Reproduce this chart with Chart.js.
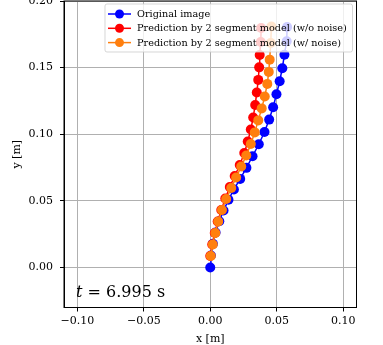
<!DOCTYPE html>
<html>
<head>
<meta charset="utf-8">
<script src="https://cdn.jsdelivr.net/npm/chart.js@4/dist/chart.umd.min.js"></script>
<style>
  html, body { margin: 0; padding: 0; background: #fff; }
  #wrap { width: 383px; height: 345px; }
</style>
</head>
<body>
<div id="wrap"><canvas id="armChart"></canvas></div>
<script>
// joint positions, in metres
const origX = [0, 0.0005, 0.002, 0.004, 0.0068, 0.0100, 0.0137, 0.0178, 0.0225, 0.0272, 0.0318, 0.0365, 0.0408, 0.0443, 0.0473, 0.0498, 0.0522, 0.0542, 0.0558, 0.0575, 0.0578]
const origY = [0, 0.009, 0.0178, 0.0263, 0.0347, 0.0428, 0.0508, 0.0586, 0.0665, 0.0748, 0.0835, 0.0925, 0.1017, 0.111, 0.1203, 0.1300, 0.1398, 0.1496, 0.1597, 0.1698, 0.1805]

// prediction without noise (base joint is hidden under the original one)
const cleanX = [0, 0.0015, 0.0034, 0.0056, 0.0083, 0.0113, 0.0147, 0.0184, 0.0222, 0.0256, 0.0282, 0.0305, 0.0323, 0.0338, 0.0350, 0.0361, 0.0368, 0.0372, 0.0380, 0.0383]
const cleanY = [0.0086, 0.0173, 0.0259, 0.0345, 0.0432, 0.0518, 0.0604, 0.0687, 0.0769, 0.0859, 0.0946, 0.1036, 0.1126, 0.1220, 0.1314, 0.1408, 0.1502, 0.1595, 0.1693, 0.1798]

// prediction with noise
const noisyX = [0.0004, 0.0019, 0.0038, 0.0060, 0.0088, 0.0120, 0.0158, 0.0195, 0.0233, 0.0271, 0.0305, 0.0335, 0.0361, 0.0387, 0.0410, 0.0429, 0.0440, 0.0447, 0.0455, 0.0460]
const noisyY = [0.0086, 0.0173, 0.0259, 0.0345, 0.0432, 0.0514, 0.0597, 0.0676, 0.0758, 0.0841, 0.0927, 0.1014, 0.1104, 0.1194, 0.1284, 0.1378, 0.1468, 0.1560, 0.1685, 0.1808]

const seriesNames = ['Original image', 'Prediction by 2 segment model (w/o noise)', 'Prediction by 2 segment model (w/ noise)']
const seriesColors = ['#0000ff', '#ff0000', '#ff7f0e']

const xTicks = [-0.10, -0.05, 0.00, 0.05, 0.10]
const yTicks = [0.00, 0.05, 0.10, 0.15, 0.20]
const timeValue = '6.995'

const serif = "'DejaVu Serif', serif"

function toPoints(xs, ys) {
    return xs.map((x, i) => ({x: x, y: ys[i]}))
}

// matplotlib style labels with a real minus sign
function fmtTick(v) {
    return (v < 0 ? '\u2212' : '') + Math.abs(v).toFixed(2)
}

// keep the plot box fixed: no extra room for the outermost tick labels
function noLabelPadding(scale) {
    scale.paddingTop = 0
    scale.paddingBottom = 0
    scale.paddingLeft = 0
    scale.paddingRight = 0
}

const allSeries = [toPoints(origX, origY), toPoints(cleanX, cleanY), toPoints(noisyX, noisyY)]

const datasets = allSeries.map((pts, i) => ({
    label: seriesNames[i],
    data: pts,
    showLine: true,
    borderColor: seriesColors[i],
    backgroundColor: seriesColors[i],
    borderWidth: 1.5,
    pointRadius: 5,
    pointBorderWidth: 0,
    pointHoverRadius: 5,
    // last series on top, like matplotlib
    order: allSeries.length - i
}))

// draws top/right spines, the legend inside the axes and the time stamp
const axesExtras = {
    id: 'axesExtras',
    afterDatasetsDraw(chart) {
        const {ctx, chartArea: a} = chart
        ctx.save()

        // time stamp
        ctx.fillStyle = '#000'
        ctx.textBaseline = 'alphabetic'
        ctx.textAlign = 'left'
        ctx.font = 'italic 16px ' + serif
        const tx = a.left + 12
        const ty = a.bottom - 11
        ctx.fillText('t', tx, ty)
        const tw = ctx.measureText('t').width
        ctx.font = '16px ' + serif
        ctx.fillText(' = ' + timeValue + ' s', tx + tw, ty)

        // legend
        const boxL = 105, boxT = 4, boxR = a.right - 4, boxB = 52
        ctx.beginPath()
        ctx.roundRect(boxL, boxT, boxR - boxL, boxB - boxT, 2)
        ctx.fillStyle = 'rgba(255,255,255,0.8)'
        ctx.fill()
        ctx.strokeStyle = 'rgba(204,204,204,0.8)'
        ctx.lineWidth = 1
        ctx.stroke()

        // size the text so the longest label spans the same width as in the picture
        ctx.font = '10px ' + serif
        const longest = Math.max(...chart.data.datasets.map(ds => ctx.measureText(ds.label).width))
        const legendSize = 10 * 210 / longest
        ctx.font = legendSize.toFixed(2) + 'px ' + serif
        ctx.textBaseline = 'middle'
        chart.data.datasets.forEach((ds, i) => {
            const ry = 14 + i * 14.3
            ctx.strokeStyle = ds.borderColor
            ctx.lineWidth = 1.5
            ctx.beginPath()
            ctx.moveTo(108, ry)
            ctx.lineTo(131, ry)
            ctx.stroke()
            ctx.fillStyle = ds.backgroundColor
            ctx.beginPath()
            ctx.arc(119.5, ry, 4.5, 0, Math.PI * 2)
            ctx.fill()
            ctx.fillStyle = '#000'
            ctx.fillText(ds.label, 137, ry + 0.5)
        })

        // spines
        ctx.strokeStyle = '#000'
        ctx.lineWidth = 1
        ctx.strokeRect(a.left, a.top, a.right - a.left, a.bottom - a.top)
        ctx.restore()
    }
}

const armChart = new Chart(document.getElementById('armChart'), {
    type: 'scatter',
    data: {datasets: datasets},
    options: {
        responsive: true,
        maintainAspectRatio: false,
        animation: false,
        devicePixelRatio: 1,
        layout: {autoPadding: false, padding: {left: 0, right: 26.5, top: 1, bottom: 0}},
        plugins: {
            legend: {display: false},
            tooltip: {enabled: false}
        },
        scales: {
            x: {
                type: 'linear',
                min: -0.11,
                max: 0.11,
                afterBuildTicks: scale => { scale.ticks = xTicks.map(v => ({value: v})) },
                afterFit: scale => {
                    scale.height = 37.5
                    noLabelPadding(scale)
                },
                ticks: {
                    callback: v => fmtTick(v),
                    color: '#000',
                    padding: 3,
                    maxRotation: 0,
                    font: {family: serif, size: 11}
                },
                grid: {color: '#b0b0b0', lineWidth: 1, tickColor: '#000', tickLength: 4},
                border: {color: '#000', width: 1},
                title: {
                    display: true,
                    text: 'x [m]',
                    color: '#000',
                    padding: {top: 0, bottom: 0},
                    font: {family: serif, size: 11, lineHeight: 1}
                }
            },
            y: {
                type: 'linear',
                min: -0.03,
                max: 0.20,
                afterBuildTicks: scale => { scale.ticks = yTicks.map(v => ({value: v})) },
                afterFit: scale => {
                    scale.width = 64
                    noLabelPadding(scale)
                },
                ticks: {
                    callback: v => fmtTick(v),
                    color: '#000',
                    padding: 7,
                    font: {family: serif, size: 11}
                },
                grid: {color: '#b0b0b0', lineWidth: 1, tickColor: '#000', tickLength: 4},
                border: {color: '#000', width: 1},
                title: {
                    display: true,
                    text: 'y [m]',
                    color: '#000',
                    padding: {top: 11, bottom: 0},
                    font: {family: serif, size: 11}
                }
            }
        }
    },
    plugins: [axesExtras]
})
</script>
</body>
</html>
